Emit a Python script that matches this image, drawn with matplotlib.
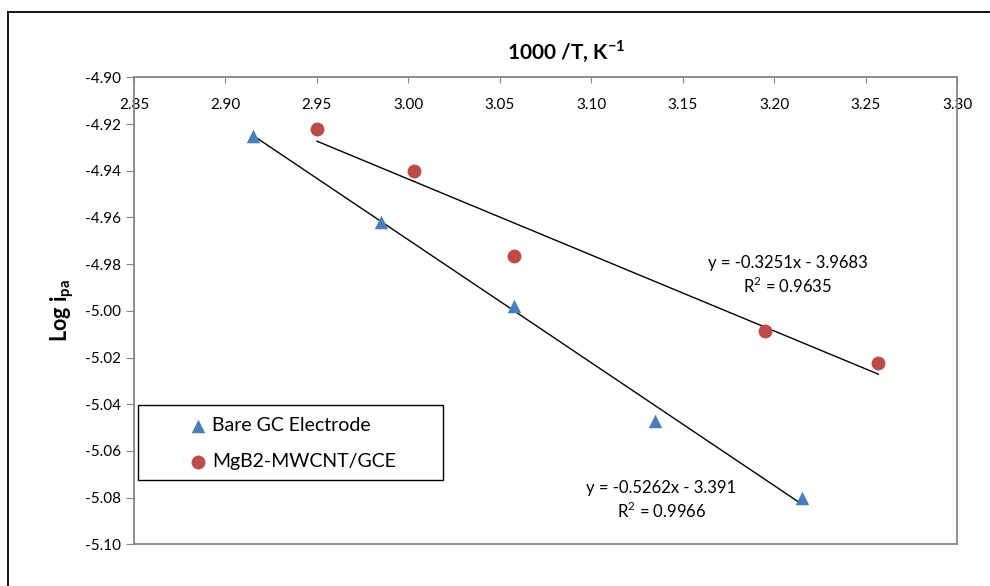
import matplotlib
matplotlib.use("Agg")
import matplotlib.pyplot as plt
import numpy as np
from matplotlib.patches import Rectangle

plt.rcParams['font.family'] = ['Lato', 'DejaVu Sans']

# Data: 1000/T (K^-1) vs log of anodic peak current
bare_x = [2.915, 2.985, 3.058, 3.135, 3.215]
bare_y = [-4.925, -4.962, -4.998, -5.047, -5.080]
mgb2_x = [2.950, 3.003, 3.058, 3.195, 3.257]
mgb2_y = [-4.922, -4.940, -4.9765, -5.0085, -5.0225]

# Linear trendline coefficients (slope, intercept) and R^2
bare_fit = (-0.5262, -3.391, 0.9966)
mgb2_fit = (-0.3251, -3.9683, 0.9635)

series_names = ["Bare GC Electrode", "MgB2-MWCNT/GCE"]
x_ticks = [2.85, 2.90, 2.95, 3.00, 3.05, 3.10, 3.15, 3.20, 3.25, 3.30]
y_ticks = [-4.90, -4.92, -4.94, -4.96, -4.98, -5.00, -5.02, -5.04, -5.06, -5.08, -5.10]

W, H, DPI = 990, 586, 100
fig = plt.figure(figsize=(W / DPI, H / DPI), dpi=DPI)
fig.patch.set_facecolor('white')


def px(x, y):
    """Figure fraction from pixel position measured from the top-left."""
    return x / W, 1 - y / H


# outer chart frame (only top and left edges visible)
fig.add_artist(plt.Line2D([8 / W, 8 / W], [0, 1 - 12 / H], color='black', lw=1.3,
                          transform=fig.transFigure))
fig.add_artist(plt.Line2D([8 / W, 1], [1 - 12 / H, 1 - 12 / H], color='black', lw=1.3,
                          transform=fig.transFigure))

left, right, top, bottom = 134, 957, 77.3, 544.3
ax = fig.add_axes([left / W, 1 - bottom / H, (right - left) / W, (bottom - top) / H])

blue = '#4a7ebb'
red = '#be4b48'
axis_grey = '#868686'

ax.scatter(bare_x, bare_y, marker='^', s=95, color=blue, zorder=3, linewidths=0,
           label=series_names[0])
ax.scatter(mgb2_x, mgb2_y, marker='o', s=100, color=red, zorder=3, linewidths=0,
           label=series_names[1])

for xs, (m, b, r2) in ((bare_x, bare_fit), (mgb2_x, mgb2_fit)):
    xx = np.array([min(xs), max(xs)])
    ax.plot(xx, m * xx + b, color='black', lw=1.0, zorder=2)

ax.set_xlim(2.85, 3.30)
ax.set_ylim(-5.10, -4.90)
ax.set_xticks(x_ticks)
ax.set_yticks(y_ticks)
ax.set_xticklabels([f"{v:.2f}" for v in x_ticks])
ax.set_yticklabels([f"{v:.2f}" for v in y_ticks])

ax.tick_params(axis='x', top=True, bottom=False, labeltop=True, labelbottom=False,
               direction='in', length=4, color=axis_grey, pad=-25, labelsize=11)
ax.tick_params(axis='y', direction='out', length=6, color=axis_grey, labelsize=11,
               pad=3)

for s in ax.spines.values():
    s.set_color(axis_grey)
    s.set_linewidth(1.3)

# trendline equation labels
fig.text(*px(788, 263), f"y = {mgb2_fit[0]:.4f}x - {abs(mgb2_fit[1]):.4f}",
         fontsize=12, ha='center', va='center')
fig.text(*px(788, 286), f"R$^\\mathregular{{2}}$ = {mgb2_fit[2]:.4f}",
         fontsize=12, ha='center', va='center')
fig.text(*px(661, 488), f"y = {bare_fit[0]:.4f}x - {abs(bare_fit[1]):.3f}",
         fontsize=12, ha='center', va='center')
fig.text(*px(662, 511), f"R$^\\mathregular{{2}}$ = {bare_fit[2]:.4f}",
         fontsize=12, ha='center', va='center')

fig.text(*px(566, 51), "1000 /T, K$^\\mathregular{-1}$", fontsize=15, fontweight='bold',
         ha='center', va='center')
fig.text(*px(62, 310), "Log i$_\\mathregular{pa}$", fontsize=15.5, fontweight='bold',
         ha='center', va='center', rotation=90)

# legend frame and entries
fig.add_artist(Rectangle(px(138, 480), 305 / W, 75 / H, transform=fig.transFigure,
                         facecolor='white', edgecolor='black', lw=1.0, zorder=4))
leg = fig.legend(*ax.get_legend_handles_labels(), loc='upper left',
                 bbox_to_anchor=px(188.5, 417), frameon=False, fontsize=14,
                 handletextpad=0.2, borderpad=0, labelspacing=1.0,
                 handlelength=1.0, borderaxespad=0)
leg.set_zorder(5)

fig.savefig("out.png", dpi=DPI, facecolor='white')
